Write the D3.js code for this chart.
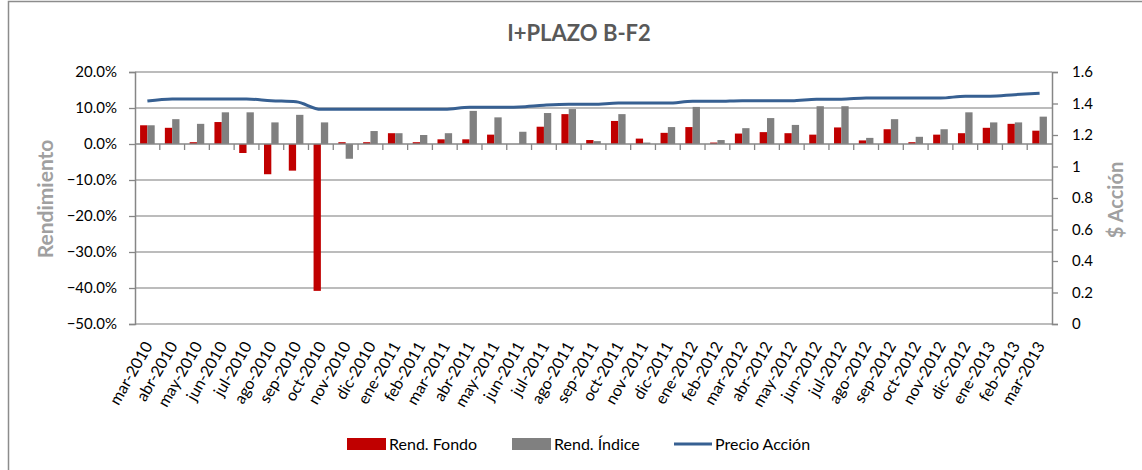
<!DOCTYPE html>
<html lang="es">
<head>
<meta charset="UTF-8"/>
<title>I+PLAZO B-F2</title>
<style>
  *{margin:0;padding:0}
  body{background:#fff;font-family:Lato,"Open Sans",sans-serif}
  svg text{font-family:Lato,"Open Sans",sans-serif}
</style>
</head>
<body>
<svg id="chart" width="1142" height="470"></svg>
<script src="https://d3js.org/d3.v7.min.js"></script>
<script>
// months shown on the category axis
const months = ['mar-2010','abr-2010','may-2010','jun-2010','jul-2010','ago-2010','sep-2010','oct-2010','nov-2010','dic-2010',
  'ene-2011','feb-2011','mar-2011','abr-2011','may-2011','jun-2011','jul-2011','ago-2011','sep-2011','oct-2011','nov-2011','dic-2011',
  'ene-2012','feb-2012','mar-2012','abr-2012','may-2012','jun-2012','jul-2012','ago-2012','sep-2012','oct-2012','nov-2012','dic-2012',
  'ene-2013','feb-2013','mar-2013'];

// Rend. Fondo (%)
const rendFondo = [5.2,4.5,0.5,6.1,-2.5,-8.4,-7.4,-40.8,0.5,0.5,
  3.0,0.5,1.3,1.3,2.6,0,4.8,8.3,1.1,6.4,1.5,3.1,
  4.7,0.4,2.9,3.3,3.0,2.6,4.6,1.0,4.1,0.5,2.6,3.0,
  4.5,5.6,3.7];

// Rend. Índice (%)
const rendIndice = [5.2,6.9,5.6,8.8,8.8,6.0,8.1,6.0,-4.1,3.6,
  3.0,2.5,3.0,9.2,7.4,3.4,8.6,9.7,0.8,8.3,0.4,4.7,
  10.3,1.1,4.4,7.2,5.3,10.5,10.5,1.7,6.9,2.0,4.1,8.8,
  6.0,6.0,7.6];

// Precio Acción
const precio = [1.416,1.429,1.429,1.429,1.429,1.418,1.411,1.363,1.363,1.363,
  1.363,1.363,1.363,1.376,1.376,1.378,1.389,1.395,1.395,1.403,1.403,1.403,
  1.414,1.414,1.418,1.418,1.418,1.427,1.427,1.435,1.435,1.435,1.435,1.446,
  1.446,1.456,1.465];

const leftTicks = [-0.5,-0.4,-0.3,-0.2,-0.1,0,0.1,0.2];
const rightTicks = [0,0.2,0.4,0.6,0.8,1,1.2,1.4,1.6];

const colors = {fondo:'#c00000', indice:'#808080', precio:'#376092', axis:'#868686', grid:'#a6a6a6'};

const L = 135, R = 1052, T = 72, B = 324;
const svg = d3.select('#chart');

// outer chart border (only top and left visible)
svg.append('rect').attr('x',8.5).attr('y',1.5).attr('width',1200).attr('height',600)
  .attr('fill','none').attr('stroke','#8c8c8c').attr('stroke-width',1.5);

const x0 = d3.scaleBand().domain(months).range([L,R]).paddingInner(0.41).paddingOuter(0.205);
const x1 = d3.scaleBand().domain(['fondo','indice']).range([0,x0.bandwidth()]);
const yL = d3.scaleLinear().domain([-0.5,0.2]).range([B,T]);
const yR = d3.scaleLinear().domain([0,1.6]).range([B,T]);
const gap = (x0.step()-x0.bandwidth())/2;
const cx = m => x0(m) + x0.bandwidth()/2;

// gridlines
svg.append('g').selectAll('line').data(leftTicks.filter(d=>d!==0)).join('line')
  .attr('x1',L).attr('x2',R).attr('y1',d=>yL(d)).attr('y2',d=>yL(d))
  .attr('stroke',colors.grid).attr('stroke-width',1.3);

// bars
const rows = months.map((m,i)=>({m, fondo:rendFondo[i]/100, indice:rendIndice[i]/100}));
svg.append('g').selectAll('g').data(rows).join('g')
  .attr('transform',d=>`translate(${x0(d.m)},0)`)
  .selectAll('rect').data(d=>['fondo','indice'].map(k=>({k, v:d[k]}))).join('rect')
  .attr('x',d=>x1(d.k)).attr('width',x1.bandwidth())
  .attr('y',d=>yL(Math.max(0,d.v))).attr('height',d=>Math.abs(yL(d.v)-yL(0)))
  .attr('fill',d=>colors[d.k]);

// zero / category axis with ticks between months
const zy = yL(0);
svg.append('line').attr('x1',L).attr('x2',R).attr('y1',zy).attr('y2',zy)
  .attr('stroke',colors.axis).attr('stroke-width',1.5);
svg.append('g').selectAll('line').data(months.slice(1)).join('line')
  .attr('x1',d=>x0(d)-gap).attr('x2',d=>x0(d)-gap)
  .attr('y1',zy).attr('y2',zy+6).attr('stroke',colors.axis).attr('stroke-width',1.3);

// price line
svg.append('path').datum(precio)
  .attr('d',d3.line().x((d,i)=>cx(months[i])).y(d=>yR(d)).curve(d3.curveMonotoneX))
  .attr('fill','none').attr('stroke',colors.precio).attr('stroke-width',3);

// left axis
const gl = svg.append('g').attr('transform',`translate(${L},0)`)
  .call(d3.axisLeft(yL).tickValues(leftTicks).tickFormat(d3.format('.1%')).tickSize(6).tickPadding(12));
// right axis
const gr = svg.append('g').attr('transform',`translate(${R},0)`)
  .call(d3.axisRight(yR).tickValues(rightTicks).tickFormat(d=>String(+d.toFixed(1))).tickSize(6).tickPadding(14));
[gl,gr].forEach(g=>{
  g.select('.domain').attr('stroke',colors.axis).attr('stroke-width',1.5);
  g.selectAll('.tick line').attr('stroke',colors.axis).attr('stroke-width',1.3);
  g.selectAll('.tick text').attr('fill','#000').style('font-size','15px');
});

// month labels
svg.append('g').selectAll('text').data(months).join('text')
  .attr('transform',d=>`translate(${cx(d)+1},${B+19}) rotate(-60)`)
  .attr('text-anchor','end').attr('dy','0.35em')
  .style('font-size','16px').attr('fill','#000').text(d=>d);

// title
svg.append('text').attr('x',579).attr('y',41).attr('text-anchor','middle')
  .style('font-size','22px').style('font-weight','bold').attr('fill','#595959').text('I+PLAZO B-F2');

// axis titles
svg.append('text').attr('transform','translate(53,199) rotate(-90)').attr('text-anchor','middle')
  .style('font-size','21px').style('font-weight','bold').attr('fill','#a0a0a0').text('Rendimiento');
svg.append('text').attr('transform','translate(1123,200) rotate(-90)').attr('text-anchor','middle')
  .style('font-size','20px').style('font-weight','bold').attr('fill','#a0a0a0').text('$ Acción');

// legend
const legend = [
  {label:'Rend. Fondo', type:'bar', color:colors.fondo, x:347},
  {label:'Rend. Índice', type:'bar', color:colors.indice, x:512},
  {label:'Precio Acción', type:'line', color:colors.precio, x:674}
];
const lg = svg.append('g').selectAll('g').data(legend).join('g')
  .attr('transform',d=>`translate(${d.x},0)`);
lg.filter(d=>d.type==='bar').append('rect').attr('x',0).attr('y',438).attr('width',39).attr('height',12).attr('fill',d=>d.color);
lg.filter(d=>d.type==='line').append('line').attr('x1',0).attr('x2',38).attr('y1',444).attr('y2',444)
  .attr('stroke',d=>d.color).attr('stroke-width',3);
lg.append('text').attr('x',d=>d.type==='bar'?42:41).attr('y',450)
  .style('font-size','16px').attr('fill','#000').text(d=>d.label);
</script>
</body>
</html>
